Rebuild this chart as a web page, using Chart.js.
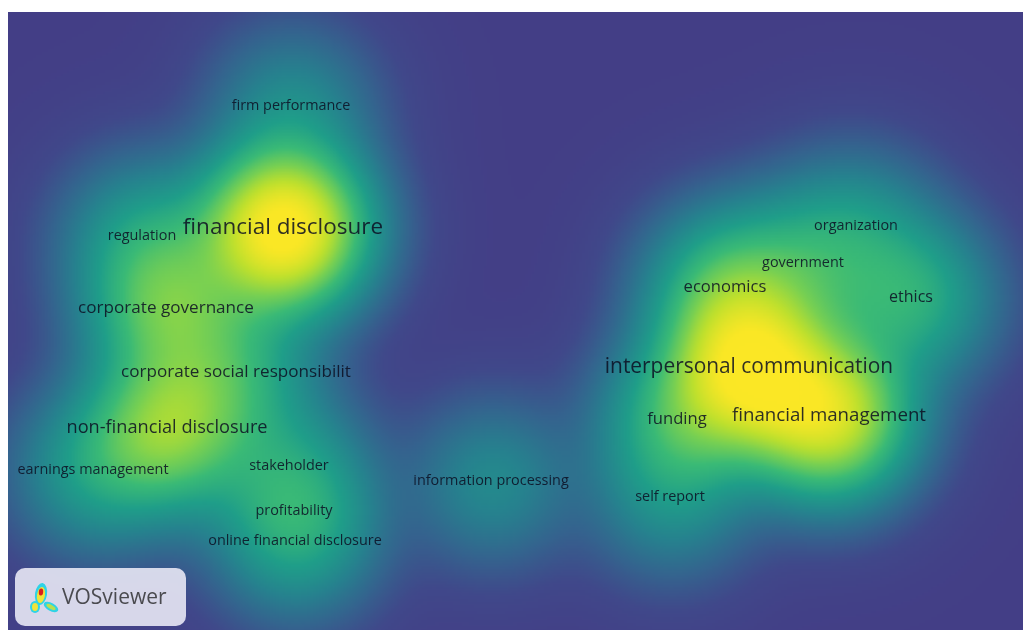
<!DOCTYPE html>
<html>
<head>
<meta charset="utf-8">
<script src="https://cdn.jsdelivr.net/npm/chart.js@4.4.1/dist/chart.umd.min.js"></script>
<style>
  html, body { margin: 0; padding: 0; background: #fff; }
  #wrap { width: 1023px; height: 630px; position: relative; }
</style>
</head>
<body>
<div id="wrap"><canvas id="map"></canvas></div>
<script>
// Keyword map data (map coordinates, weights estimated from label size / glow)
const keywords = [
    'firm performance', 'financial disclosure', 'regulation', 'corporate governance',
    'corporate social responsibilit', 'non-financial disclosure', 'earnings management',
    'stakeholder', 'profitability', 'online financial disclosure', 'information processing',
    'organization', 'government', 'economics', 'ethics', 'interpersonal communication',
    'funding', 'financial management', 'self report'
];
const mapX = [283, 275, 134, 158, 228, 159, 85, 281, 286, 287, 483, 848, 795, 717, 903, 741, 669, 821, 662];
const mapY = [94, 216, 224, 296, 360, 416, 458, 454, 499, 529, 469, 214, 251, 275, 285, 355, 407, 404, 485];
const occurrences = [3, 18, 3, 8, 8, 10, 3, 3, 3, 3, 3, 3, 3, 7, 6, 15, 7, 11, 3];
const linkStrength = [5, 36, 7, 14, 8, 18, 7, 5, 5, 5, 5, 5, 7, 12, 10, 30, 10, 26, 5];

const mapWidth = 1015;
const mapHeight = 618;
const kernelWidth = 50;
const densityRef = 26;

// viridis-like density colours
const colorStops = [
    [0.00, [67, 62, 134]],
    [0.12, [64, 72, 138]],
    [0.25, [52, 100, 142]],
    [0.40, [38, 130, 142]],
    [0.55, [31, 158, 137]],
    [0.68, [58, 186, 118]],
    [0.78, [120, 208, 82]],
    [0.86, [190, 224, 45]],
    [0.93, [250, 231, 37]],
    [1.00, [253, 231, 37]]
];

function densityColor(t) {
    t = Math.max(0, Math.min(1, t));
    for (let i = 1; i < colorStops.length; i++) {
        if (t <= colorStops[i][0]) {
            const [t0, c0] = colorStops[i - 1];
            const [t1, c1] = colorStops[i];
            const f = (t - t0) / (t1 - t0);
            return [0, 1, 2].map(k => c0[k] + (c1[k] - c0[k]) * f);
        }
    }
    return colorStops[colorStops.length - 1][1];
}

const densityPlugin = {
    id: 'density',
    beforeDraw(chart) {
        const ctx = chart.ctx;
        ctx.save();
        ctx.fillStyle = '#ffffff';
        ctx.fillRect(0, 0, chart.width, chart.height);
        ctx.restore();
    },
    beforeDatasetsDraw(chart) {
        const { ctx, chartArea: a, scales: { x, y } } = chart;
        const step = 3;
        const w = Math.ceil((a.right - a.left) / step) + 1;
        const h = Math.ceil((a.bottom - a.top) / step) + 1;
        const off = document.createElement('canvas');
        off.width = w;
        off.height = h;
        const octx = off.getContext('2d');
        const img = octx.createImageData(w, h);

        const nodes = keywords.map((k, i) => ({
            px: x.getPixelForValue(mapX[i]),
            py: y.getPixelForValue(mapY[i]),
            w: linkStrength[i]
        }));
        const sig = Math.abs(x.getPixelForValue(kernelWidth) - x.getPixelForValue(0));
        const s2 = 2 * sig * sig;

        for (let j = 0; j < h; j++) {
            const py = a.top + j * step;
            for (let i = 0; i < w; i++) {
                const px = a.left + i * step;
                let d = 0;
                nodes.forEach(n => {
                    const dx = px - n.px, dy = py - n.py;
                    d += n.w * Math.exp(-(dx * dx + dy * dy) / s2);
                });
                // soft saturation so the hot spots fade smoothly
                const c = densityColor(Math.sqrt(Math.tanh(d / densityRef)));
                const p = (j * w + i) * 4;
                img.data[p] = c[0];
                img.data[p + 1] = c[1];
                img.data[p + 2] = c[2];
                img.data[p + 3] = 255;
            }
        }
        octx.putImageData(img, 0, 0);
        ctx.save();
        ctx.imageSmoothingEnabled = true;
        ctx.beginPath();
        ctx.rect(a.left, a.top, a.right - a.left, a.bottom - a.top);
        ctx.clip();
        ctx.drawImage(off, a.left, a.top, w * step, h * step);
        ctx.restore();
    },
    afterDatasetsDraw(chart) {
        const { ctx, scales: { x, y } } = chart;
        ctx.save();
        ctx.textAlign = 'center';
        ctx.textBaseline = 'middle';
        ctx.fillStyle = 'rgba(12, 14, 34, 0.85)';
        keywords.forEach((k, i) => {
            const size = 12.78 + 0.54 * occurrences[i];
            ctx.font = size.toFixed(1) + 'px "Open Sans"';
            ctx.fillText(k, x.getPixelForValue(mapX[i]), y.getPixelForValue(mapY[i]));
        });
        ctx.restore();
    },
    afterDraw(chart) {
        // VOSviewer badge
        const ctx = chart.ctx;
        ctx.save();
        ctx.fillStyle = 'rgba(228, 228, 242, 0.92)';
        ctx.beginPath();
        ctx.roundRect(15, 568, 171, 58, 10);
        ctx.fill();

        // little density icon
        const blob = (cx, cy, rx, ry, rot, col) => {
            ctx.fillStyle = col;
            ctx.beginPath();
            ctx.ellipse(cx, cy, rx, ry, rot, 0, Math.PI * 2);
            ctx.fill();
        };
        blob(41, 594, 6, 11, 0.15, '#2fd3e6');
        blob(35, 607, 5, 6, 0, '#2fd3e6');
        blob(51, 607, 8, 4, 0.5, '#2fd3e6');
        blob(41, 595, 4, 8, 0.15, '#f0e43a');
        blob(35, 607, 3, 4, 0, '#f0e43a');
        blob(51, 607, 5, 2, 0.5, '#b8e050');
        blob(41, 592, 2.2, 3.5, 0.1, '#d81f1f');

        ctx.fillStyle = '#4a4a4f';
        ctx.font = '21px "Open Sans"';
        ctx.textAlign = 'left';
        ctx.textBaseline = 'middle';
        ctx.fillText('VOSviewer', 62, 598);
        ctx.restore();
    }
};

new Chart(document.getElementById('map'), {
    type: 'scatter',
    data: {
        datasets: [{
            data: keywords.map((k, i) => ({ x: mapX[i], y: mapY[i] })),
            pointRadius: 0,
            pointHoverRadius: 0
        }]
    },
    options: {
        responsive: true,
        maintainAspectRatio: false,
        animation: false,
        layout: { padding: { left: 8, top: 12, right: 0, bottom: 0 } },
        scales: {
            x: { type: 'linear', min: 0, max: mapWidth, display: false },
            y: { type: 'linear', min: 0, max: mapHeight, reverse: true, display: false }
        },
        plugins: {
            legend: { display: false },
            tooltip: { enabled: false }
        }
    },
    plugins: [densityPlugin]
});
</script>
</body>
</html>
